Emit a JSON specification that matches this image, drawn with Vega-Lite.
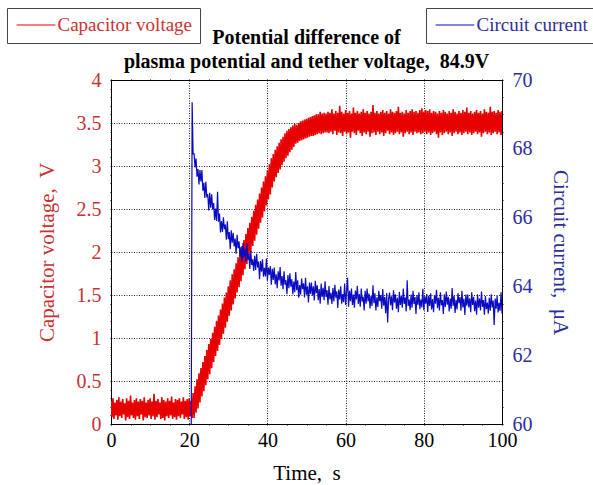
{
"$schema":"https://vega.github.io/schema/vega-lite/v6.json",
"width":391,"height":344,
"autosize":{"type":"none"},
"padding":{"left":111,"top":80,"right":91,"bottom":61},
"background":"white",
"config":{
 "font":"Liberation Serif",
 "view":{"stroke":"black","strokeWidth":1},
 "axis":{"domainColor":"black","tickColor":"black","labelFont":"Liberation Serif","titleFont":"Liberation Serif","labelFontSize":20,"titleFontSize":21,"titleFontWeight":"normal","labelOverlap":false,"labelBound":false,"labelFlush":false,"tickSize":1,"gridColor":"#222","gridDash":[1,1.5],"gridWidth":1},
 "legend":{"labelFont":"Liberation Serif","labelFontSize":19,"symbolType":"M-2.5,0L2.5,0","symbolSize":240,"symbolOffset":12,"symbolStrokeWidth":1,"strokeColor":"#444","fillColor":"white","padding":7.5,"labelOffset":12,"cornerRadius":0,"labelLimit":300}
},
"title":{"text":["Potential difference of","plasma potential and tether voltage,\u00a0 84.9V"],"font":"Liberation Serif","fontSize":20,"fontWeight":"bold","color":"black","lineHeight":23.5,"anchor":"middle","offset":12,"dy":76},
"data":{"values":[
{"t":0,"v":0.27},{"t":0.25,"v":0.08},{"t":0.5,"v":0.30},{"t":0.75,"v":0.06},{"t":1,"v":0.25},{"t":1.25,"v":0.10},{"t":1.5,"v":0.28},{"t":1.75,"v":0.05},{"t":2,"v":0.31},{"t":2.25,"v":0.09},{"t":2.5,"v":0.26},{"t":2.75,"v":0.07},{"t":3,"v":0.29},{"t":3.25,"v":0.11},{"t":3.5,"v":0.24},{"t":3.75,"v":0.04},{"t":4,"v":0.30},{"t":4.25,"v":0.08},{"t":4.5,"v":0.27},{"t":4.75,"v":0.06},{"t":5,"v":0.33},{"t":5.25,"v":0.10},{"t":5.5,"v":0.25},{"t":5.75,"v":0.07},{"t":6,"v":0.28},{"t":6.25,"v":0.05},{"t":6.5,"v":0.30},{"t":6.75,"v":0.09},{"t":7,"v":0.26},{"t":7.25,"v":0.06},{"t":7.5,"v":0.29},{"t":7.75,"v":0.11},{"t":8,"v":0.27},{"t":8.25,"v":0.04},{"t":8.5,"v":0.31},{"t":8.75,"v":0.08},{"t":9,"v":0.25},{"t":9.25,"v":0.07},{"t":9.5,"v":0.28},{"t":9.75,"v":0.10},{"t":10,"v":0.30},{"t":10.25,"v":0.06},{"t":10.5,"v":0.26},{"t":10.75,"v":0.09},{"t":11,"v":0.35},{"t":11.25,"v":0.05},{"t":11.5,"v":0.27},{"t":11.75,"v":0.08},{"t":12,"v":0.29},{"t":12.25,"v":0.11},{"t":12.5,"v":0.25},{"t":12.75,"v":0.06},{"t":13,"v":0.31},{"t":13.25,"v":0.07},{"t":13.5,"v":0.28},{"t":13.75,"v":0.04},{"t":14,"v":0.26},{"t":14.25,"v":0.09},{"t":14.5,"v":0.30},{"t":14.75,"v":0.07},{"t":15,"v":0.27},{"t":15.25,"v":0.10},{"t":15.5,"v":0.32},{"t":15.75,"v":0.06},{"t":16,"v":0.25},{"t":16.25,"v":0.08},{"t":16.5,"v":0.29},{"t":16.75,"v":0.05},{"t":17,"v":0.28},{"t":17.25,"v":0.09},{"t":17.5,"v":0.30},{"t":17.75,"v":0.07},{"t":18,"v":0.26},{"t":18.25,"v":0.11},{"t":18.5,"v":0.31},{"t":18.75,"v":0.06},{"t":19,"v":0.27},{"t":19.25,"v":0.08},{"t":19.5,"v":0.29},{"t":19.75,"v":0.05},{"t":20,"v":0.30},{"t":20.25,"v":0.09},
{"t":20.5,"v":0.27,"c":59.0},{"t":20.75,"v":0.07,"c":69.35},{"t":21,"v":0.36,"c":67.85},{"t":21.25,"v":0.07,"c":67.85},{"t":21.5,"v":0.44,"c":67.46},{"t":21.75,"v":0.13,"c":67.72},{"t":22,"v":0.52,"c":67.19},{"t":22.25,"v":0.18,"c":67.41},{"t":22.5,"v":0.59,"c":66.96},{"t":22.75,"v":0.25,"c":67.38},{"t":23,"v":0.65,"c":67.05},{"t":23.25,"v":0.32,"c":67.38},{"t":23.5,"v":0.72,"c":66.78},{"t":23.75,"v":0.38,"c":67.01},{"t":24,"v":0.79,"c":66.57},{"t":24.25,"v":0.45,"c":67.04},{"t":24.5,"v":0.86,"c":66.59},{"t":24.75,"v":0.52,"c":66.68},{"t":25,"v":0.93,"c":66.21},{"t":25.25,"v":0.58,"c":66.72},{"t":25.5,"v":0.99,"c":66.29},{"t":25.75,"v":0.65,"c":66.68},{"t":26,"v":1.06,"c":66.24},{"t":26.25,"v":0.72,"c":66.42},{"t":26.5,"v":1.13,"c":65.93},{"t":26.75,"v":0.79,"c":66.26},{"t":27,"v":1.20,"c":65.90},{"t":27.25,"v":0.85,"c":66.75},{"t":27.5,"v":1.26,"c":65.88},{"t":27.75,"v":0.92,"c":66.12},{"t":28,"v":1.33,"c":65.57},{"t":28.25,"v":0.99,"c":65.90},{"t":28.5,"v":1.40,"c":65.58},{"t":28.75,"v":1.05,"c":66.01},{"t":29,"v":1.47,"c":65.66},{"t":29.25,"v":1.12,"c":65.80},{"t":29.5,"v":1.53,"c":65.36},{"t":29.75,"v":1.19,"c":65.89},{"t":30,"v":1.60,"c":65.37},{"t":30.25,"v":1.26,"c":65.58},{"t":30.5,"v":1.67,"c":65.08},{"t":30.75,"v":1.32,"c":65.63},{"t":31,"v":1.74,"c":65.27},{"t":31.25,"v":1.39,"c":65.56},{"t":31.5,"v":1.80,"c":65.16},{"t":31.75,"v":1.46,"c":65.39},{"t":32,"v":1.87,"c":64.95},{"t":32.25,"v":1.53,"c":65.50},{"t":32.5,"v":1.94,"c":65.11},{"t":32.75,"v":1.59,"c":65.31},{"t":33,"v":2.01,"c":64.86},{"t":33.25,"v":1.66,"c":65.15},{"t":33.5,"v":2.07,"c":64.71},{"t":33.75,"v":1.73,"c":65.26},{"t":34,"v":2.14,"c":64.85},{"t":34.25,"v":1.80,"c":65.09},{"t":34.5,"v":2.21,"c":64.72},{"t":34.75,"v":1.86,"c":65.25},{"t":35,"v":2.28,"c":64.77},{"t":35.25,"v":1.93,"c":64.95},{"t":35.5,"v":2.34,"c":64.51},{"t":35.75,"v":2.00,"c":65.03},{"t":36,"v":2.41,"c":64.62},{"t":36.25,"v":2.07,"c":64.79},{"t":36.5,"v":2.48,"c":64.45},{"t":36.75,"v":2.13,"c":64.89},{"t":37,"v":2.55,"c":64.48},{"t":37.25,"v":2.20,"c":64.95},{"t":37.5,"v":2.61,"c":64.55},{"t":37.75,"v":2.27,"c":64.72},{"t":38,"v":2.68,"c":64.21},{"t":38.25,"v":2.34,"c":64.74},{"t":38.5,"v":2.75,"c":64.43},{"t":38.75,"v":2.40,"c":64.79},{"t":39,"v":2.82,"c":64.28},{"t":39.25,"v":2.47,"c":64.54},{"t":39.5,"v":2.88,"c":64.29},{"t":39.75,"v":2.54,"c":64.81},{"t":40,"v":2.95,"c":64.17},{"t":40.25,"v":2.61,"c":64.55},{"t":40.5,"v":3.02,"c":64.33},{"t":40.75,"v":2.67,"c":64.59},{"t":41,"v":3.09,"c":64.05},{"t":41.25,"v":2.75,"c":64.51},{"t":41.5,"v":3.14,"c":64.19},{"t":41.75,"v":2.82,"c":64.55},{"t":42,"v":3.19,"c":64.06},{"t":42.25,"v":2.87,"c":64.35},{"t":42.5,"v":3.23,"c":63.95},{"t":42.75,"v":2.92,"c":64.44},{"t":43,"v":3.27,"c":64.17},{"t":43.25,"v":2.96,"c":64.56},{"t":43.5,"v":3.31,"c":64.02},{"t":43.75,"v":3.01,"c":64.30},{"t":44,"v":3.34,"c":63.92},{"t":44.25,"v":3.05,"c":64.44},{"t":44.5,"v":3.38,"c":64.05},{"t":44.75,"v":3.09,"c":64.18},{"t":45,"v":3.41,"c":63.77},{"t":45.25,"v":3.12,"c":64.33},{"t":45.5,"v":3.43,"c":63.95},{"t":45.75,"v":3.16,"c":64.38},{"t":46,"v":3.45,"c":63.99},{"t":46.25,"v":3.19,"c":64.21},{"t":46.5,"v":3.47,"c":63.77},{"t":46.75,"v":3.22,"c":64.14},{"t":47,"v":3.49,"c":63.83},{"t":47.25,"v":3.26,"c":64.42},{"t":47.5,"v":3.48,"c":63.89},{"t":47.75,"v":3.27,"c":64.18},{"t":48,"v":3.50,"c":63.67},{"t":48.25,"v":3.29,"c":64.04},{"t":48.5,"v":3.52,"c":63.76},{"t":48.75,"v":3.30,"c":64.23},{"t":49,"v":3.53,"c":63.92},{"t":49.25,"v":3.31,"c":64.09},{"t":49.5,"v":3.54,"c":63.68},{"t":49.75,"v":3.32,"c":64.25},{"t":50,"v":3.55,"c":63.76},
{"t":50.25,"v":3.33,"c":64.00},{"t":50.5,"v":3.56,"c":63.53},{"t":50.75,"v":3.34,"c":64.11},{"t":51,"v":3.57,"c":63.78},{"t":51.25,"v":3.35,"c":64.11},{"t":51.5,"v":3.58,"c":63.73},{"t":51.75,"v":3.35,"c":64.00},{"t":52,"v":3.59,"c":63.59},{"t":52.25,"v":3.36,"c":64.16},{"t":52.5,"v":3.60,"c":63.80},{"t":52.75,"v":3.37,"c":64.03},{"t":53,"v":3.60,"c":63.60},{"t":53.25,"v":3.38,"c":63.92},{"t":53.5,"v":3.63,"c":63.50},{"t":53.75,"v":3.37,"c":64.08},{"t":54,"v":3.61,"c":63.69},{"t":54.25,"v":3.38,"c":63.96},{"t":54.5,"v":3.62,"c":63.60},{"t":54.75,"v":3.39,"c":64.15},{"t":55,"v":3.61,"c":63.69},{"t":55.25,"v":3.39,"c":63.89},{"t":55.5,"v":3.63,"c":63.47},{"t":55.75,"v":3.38,"c":64.01},{"t":56,"v":3.62,"c":63.62},{"t":56.25,"v":3.40,"c":63.81},{"t":56.5,"v":3.66,"c":63.49},{"t":56.75,"v":3.37,"c":63.95},{"t":57,"v":3.61,"c":63.56},{"t":57.25,"v":3.41,"c":64.05},{"t":57.5,"v":3.64,"c":63.67},{"t":57.75,"v":3.36,"c":63.86},{"t":58,"v":3.62,"c":63.37},{"t":58.25,"v":3.39,"c":63.91},{"t":58.5,"v":3.70,"c":63.62},{"t":58.75,"v":3.38,"c":64.00},{"t":59,"v":3.63,"c":63.50},{"t":59.25,"v":3.35,"c":63.78},{"t":59.5,"v":3.61,"c":63.54},{"t":59.75,"v":3.40,"c":64.08},{"t":60,"v":3.65,"c":63.46},{"t":60.25,"v":3.37,"c":63.86},{"t":60.5,"v":3.62,"c":64.25},{"t":60.75,"v":3.39,"c":63.41},{"t":61,"v":3.64,"c":63.87},{"t":61.25,"v":3.33,"c":63.57},{"t":61.5,"v":3.61,"c":63.94},{"t":61.75,"v":3.40,"c":63.46},{"t":62,"v":3.68,"c":63.76},{"t":62.25,"v":3.38,"c":63.38},{"t":62.5,"v":3.62,"c":63.88},{"t":62.75,"v":3.36,"c":63.62},{"t":63,"v":3.64,"c":64.02},{"t":63.25,"v":3.41,"c":63.49},{"t":63.5,"v":3.61,"c":63.78},{"t":63.75,"v":3.38,"c":63.41},{"t":64,"v":3.63,"c":63.94},{"t":64.25,"v":3.35,"c":63.56},{"t":64.5,"v":3.66,"c":63.70},{"t":64.75,"v":3.39,"c":63.30},{"t":65,"v":3.62,"c":63.87},{"t":65.25,"v":3.37,"c":63.50},{"t":65.5,"v":3.64,"c":63.94},{"t":65.75,"v":3.40,"c":63.56},{"t":66,"v":3.61,"c":63.79},{"t":66.25,"v":3.34,"c":63.36},{"t":66.5,"v":3.63,"c":63.73},{"t":66.75,"v":3.38,"c":63.43},{"t":67,"v":3.71,"c":64.03},{"t":67.25,"v":3.39,"c":63.51},{"t":67.5,"v":3.62,"c":63.80},{"t":67.75,"v":3.36,"c":63.30},{"t":68,"v":3.64,"c":63.68},{"t":68.25,"v":3.40,"c":63.40},{"t":68.5,"v":3.61,"c":63.87},{"t":68.75,"v":3.37,"c":63.57},{"t":69,"v":3.63,"c":63.75},{"t":69.25,"v":3.39,"c":63.35},{"t":69.5,"v":3.65,"c":63.92},{"t":69.75,"v":3.35,"c":63.44},{"t":70,"v":3.62,"c":63.69},{"t":70.25,"v":3.38,"c":63.22},{"t":70.5,"v":3.64,"c":63.81},{"t":70.75,"v":3.41,"c":62.95},{"t":71,"v":3.61,"c":63.65},{"t":71.25,"v":3.37,"c":63.82},{"t":71.5,"v":3.66,"c":63.45},{"t":71.75,"v":3.39,"c":63.71},{"t":72,"v":3.63,"c":63.31},{"t":72.25,"v":3.36,"c":63.89},{"t":72.5,"v":3.62,"c":63.53},{"t":72.75,"v":3.38,"c":63.77},{"t":73,"v":3.64,"c":63.35},{"t":73.25,"v":3.40,"c":63.67},{"t":73.5,"v":3.69,"c":63.25},{"t":73.75,"v":3.37,"c":63.84},{"t":74,"v":3.62,"c":63.46},{"t":74.25,"v":3.39,"c":63.73},{"t":74.5,"v":3.63,"c":63.38},{"t":74.75,"v":3.34,"c":63.94},{"t":75,"v":3.61,"c":63.49},
{"t":75.25,"v":3.38,"c":63.68},{"t":75.5,"v":3.65,"c":63.27},{"t":75.75,"v":3.40,"c":64.18},{"t":76,"v":3.62,"c":63.43},{"t":76.25,"v":3.37,"c":63.62},{"t":76.5,"v":3.64,"c":63.31},{"t":76.75,"v":3.39,"c":63.76},{"t":77,"v":3.66,"c":63.38},{"t":77.25,"v":3.36,"c":63.87},{"t":77.5,"v":3.63,"c":63.49},{"t":77.75,"v":3.40,"c":63.69},{"t":78,"v":3.64,"c":63.20},{"t":78.25,"v":3.38,"c":63.75},{"t":78.5,"v":3.62,"c":63.46},{"t":78.75,"v":3.39,"c":63.83},{"t":79,"v":3.65,"c":63.34},{"t":79.25,"v":3.37,"c":63.62},{"t":79.5,"v":3.67,"c":63.39},{"t":79.75,"v":3.38,"c":63.93},{"t":80,"v":3.63,"c":63.31},{"t":80.25,"v":3.40,"c":63.71},{"t":80.5,"v":3.65,"c":63.50},{"t":80.75,"v":3.37,"c":63.78},{"t":81,"v":3.64,"c":63.26},{"t":81.25,"v":3.39,"c":63.73},{"t":81.5,"v":3.66,"c":63.43},{"t":81.75,"v":3.36,"c":63.80},{"t":82,"v":3.62,"c":63.33},{"t":82.25,"v":3.38,"c":63.63},{"t":82.5,"v":3.64,"c":63.25},{"t":82.75,"v":3.40,"c":63.75},{"t":83,"v":3.63,"c":63.50},{"t":83.25,"v":3.37,"c":63.90},{"t":83.5,"v":3.61,"c":63.37},{"t":83.75,"v":3.33,"c":63.67},{"t":84,"v":3.64,"c":63.30},{"t":84.25,"v":3.39,"c":63.83},{"t":84.5,"v":3.62,"c":63.45},{"t":84.75,"v":3.36,"c":63.60},{"t":85,"v":3.65,"c":63.20},{"t":85.25,"v":3.38,"c":63.77},{"t":85.5,"v":3.63,"c":63.40},{"t":85.75,"v":3.40,"c":63.85},{"t":86,"v":3.61,"c":63.47},{"t":86.25,"v":3.37,"c":63.70},{"t":86.5,"v":3.64,"c":63.27},{"t":86.75,"v":3.39,"c":63.65},{"t":87,"v":3.62,"c":63.35},{"t":87.25,"v":3.35,"c":63.95},{"t":87.5,"v":3.66,"c":63.43},{"t":87.75,"v":3.38,"c":63.73},{"t":88,"v":3.63,"c":63.23},{"t":88.25,"v":3.40,"c":63.61},{"t":88.5,"v":3.61,"c":63.33},{"t":88.75,"v":3.37,"c":63.81},{"t":89,"v":3.64,"c":63.51},{"t":89.25,"v":3.39,"c":63.69},{"t":89.5,"v":3.62,"c":63.29},{"t":89.75,"v":3.36,"c":63.87},{"t":90,"v":3.65,"c":63.39},{"t":90.25,"v":3.38,"c":63.64},{"t":90.5,"v":3.63,"c":63.17},{"t":90.75,"v":3.40,"c":63.76},{"t":91,"v":3.68,"c":63.44},{"t":91.25,"v":3.37,"c":63.76},{"t":91.5,"v":3.62,"c":63.39},{"t":91.75,"v":3.39,"c":63.65},{"t":92,"v":3.64,"c":63.25},{"t":92.25,"v":3.36,"c":63.83},{"t":92.5,"v":3.61,"c":63.46},{"t":92.75,"v":3.38,"c":63.70},{"t":93,"v":3.63,"c":63.28},{"t":93.25,"v":3.40,"c":63.59},{"t":93.5,"v":3.65,"c":63.18},{"t":93.75,"v":3.37,"c":63.77},{"t":94,"v":3.62,"c":63.38},{"t":94.25,"v":3.39,"c":63.65},{"t":94.5,"v":3.64,"c":63.30},{"t":94.75,"v":3.34,"c":63.85},{"t":95,"v":3.61,"c":63.40},{"t":95.25,"v":3.38,"c":63.60},{"t":95.5,"v":3.66,"c":63.18},{"t":95.75,"v":3.40,"c":63.72},{"t":96,"v":3.63,"c":63.34},{"t":96.25,"v":3.37,"c":63.53},{"t":96.5,"v":3.62,"c":63.21},{"t":96.75,"v":3.39,"c":63.67},{"t":97,"v":3.69,"c":63.29},{"t":97.25,"v":3.36,"c":63.77},{"t":97.5,"v":3.63,"c":63.39},{"t":97.75,"v":3.38,"c":63.59},{"t":98,"v":3.64,"c":62.88},{"t":98.25,"v":3.40,"c":63.65},{"t":98.5,"v":3.62,"c":63.35},{"t":98.75,"v":3.37,"c":63.73},{"t":99,"v":3.65,"c":63.24},{"t":99.25,"v":3.39,"c":63.52},{"t":99.5,"v":3.63,"c":63.29},{"t":99.75,"v":3.36,"c":63.83},{"t":100,"v":3.64,"c":63.21}
]},
"layer":[
{
 "mark":{"type":"line","strokeWidth":1.6,"clip":true},
 "encoding":{
  "x":{"field":"t","type":"quantitative","scale":{"domain":[0,100],"nice":false},
   "axis":{"orient":"bottom","values":[0,5,10,15,20,25,30,35,40,45,50,55,60,65,70,75,80,85,90,95,100],
    "labelExpr":"datum.value%20==0 ? ''+datum.value : ''","labelColor":"black","labelPadding":5,
    "title":"Time,\u00a0 s","titleColor":"black","titlePadding":12,
    "grid":true,"gridOpacity":{"condition":{"test":"datum.value%20==0 && datum.value>0 && datum.value<100","value":1},"value":0},
    "encode":{"ticks":{"update":{"y2":{"signal":"datum.value%20==0 ? -8 : -4"}}}}}},
  "y":{"field":"v","type":"quantitative","scale":{"domain":[0,4],"nice":false},
   "axis":{"orient":"left","values":[0,0.1,0.2,0.3,0.4,0.5,0.6,0.7,0.8,0.9,1,1.1,1.2,1.3,1.4,1.5,1.6,1.7,1.8,1.9,2,2.1,2.2,2.3,2.4,2.5,2.6,2.7,2.8,2.9,3,3.1,3.2,3.3,3.4,3.5,3.6,3.7,3.8,3.9,4],
    "labelExpr":"abs(datum.value*2-round(datum.value*2))<0.001 ? ''+round(datum.value*10)/10 : ''","labelColor":"#c83232","labelPadding":9,
    "title":"Capacitor voltage,\u00a0 V","titleColor":"#c83232","titlePadding":19,
    "grid":true,"gridOpacity":{"condition":{"test":"abs(datum.value*2-round(datum.value*2))<0.001 && datum.value>0.01 && datum.value<3.99","value":1},"value":0},
    "encode":{"ticks":{"update":{"x2":{"signal":"abs(datum.value*2-round(datum.value*2))<0.001 ? 8 : 4"}}}}}},
  "color":{"datum":"Capacitor voltage","type":"nominal","scale":{"range":["#e60000"]},
   "legend":{"orient":"none","legendX":-104,"legendY":-72,"title":null,"labelColor":"#c83232"}}
 }
},
{
 "mark":{"type":"line","strokeWidth":1.2,"clip":true},
 "encoding":{
  "x":{"field":"t","type":"quantitative","scale":{"domain":[0,100],"nice":false},
   "axis":{"orient":"top","values":[0,5,10,15,20,25,30,35,40,45,50,55,60,65,70,75,80,85,90,95,100],
    "labels":false,"title":null,"grid":false,
    "encode":{"ticks":{"update":{"y2":{"signal":"datum.value%20==0 ? 8 : 4"}}}}}},
  "y":{"field":"c","type":"quantitative","scale":{"domain":[60,70],"nice":false},
   "axis":{"orient":"right","values":[60,60.5,61,61.5,62,62.5,63,63.5,64,64.5,65,65.5,66,66.5,67,67.5,68,68.5,69,69.5,70],
    "labelExpr":"datum.value%2==0 ? ''+datum.value : ''","labelColor":"#2e2e9a","labelPadding":9,
    "title":"Circuit current,\u00a0 μA","titleColor":"#2e2e9a","titlePadding":17,"grid":false,
    "encode":{"ticks":{"update":{"x2":{"signal":"datum.value%2==0 ? -8 : -4"}}}}}},
  "color":{"datum":"Circuit current","type":"nominal","scale":{"range":["#0a0ac0"]},
   "legend":{"orient":"none","legendX":315,"legendY":-72,"title":null,"labelColor":"#2e2e9a"}}
 }
}
],
"resolve":{"scale":{"y":"independent","color":"independent"},"axis":{"x":"independent"}}
}
